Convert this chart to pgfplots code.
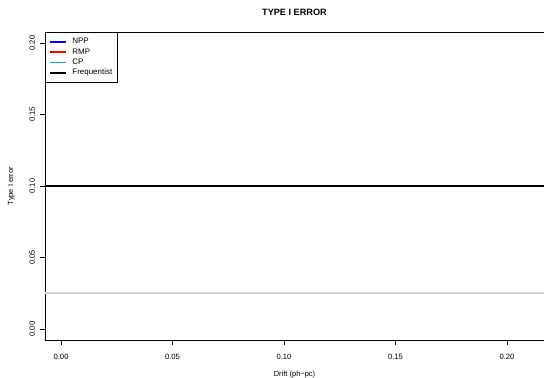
\documentclass[border=0pt]{standalone}
\usepackage{pgfplots}
\pgfplotsset{compat=1.18}
\usepackage{fontspec}
\setmainfont{Liberation Sans}
\definecolor{lgrey}{RGB}{211,211,211}
\begin{document}
\begin{tikzpicture}
\begin{axis}[
  at={(45bp,38bp)}, anchor=south west,
  scale only axis, width=499bp, height=308bp,
  xmin=-0.0072, xmax=0.2166, ymin=-0.0077, ymax=0.2077,
  axis x line*=bottom, axis y line*=left,
  axis line style={line width=0.8bp, -},
  xtick={0,0.05,0.1,0.15,0.2}, ytick={0,0.05,0.1,0.15,0.2},
  xticklabels={0.00,0.05,0.10,0.15,0.20},
  yticklabels={0.00,0.05,0.10,0.15,0.20},
  tick align=outside, major tick length=5bp,
  tick style={black, line width=0.8bp},
  every tick label/.append style={font=\fontsize{7.7}{9}\selectfont},
  xticklabel style={anchor=base, yshift=-14bp},
  yticklabel style={rotate=90, anchor=base},
  yticklabel shift=5bp,
  title={\textbf{TYPE I ERROR}},
  title style={at={(0.5,1.0357)}, anchor=base, font=\fontsize{9.2}{11}\selectfont},
  xlabel={Drift (ph\textminus pc)},
  xlabel style={at={(0.5,-0.1169)}, anchor=base, font=\fontsize{7.5}{9}\selectfont},
  ylabel={Type I error},
  ylabel style={at={(-0.0641,0.5)}, anchor=base, font=\fontsize{7.5}{9}\selectfont},
  legend style={at={(0,1)}, anchor=north west, draw=black, line width=0.6bp,
    font=\fontsize{8}{9}\selectfont, inner xsep=4bp, inner ysep=4.5bp, row sep=0bp,
    column sep=4bp,
    nodes={inner sep=1.5bp, text height=5.7bp, text depth=1.6bp}},
  legend cell align=left,
  legend image code/.code={\draw[#1, line width=1.6bp] (0bp,0bp) -- (16bp,0bp);},
]
\addlegendimage{blue}
\addlegendentry{NPP}
\addlegendimage{red}
\addlegendentry{RMP}
\addlegendimage{cyan}
\addlegendentry{CP}
\addplot[black, line width=1.8bp, forget plot] coordinates {(-0.0072,0.10) (0.2166,0.10)};
\addplot[lgrey, line width=1.8bp, forget plot] coordinates {(-0.0072,0.025) (0.2166,0.025)};
\addlegendimage{black}
\addlegendentry{Frequentist}
\draw[line width=0.8bp] (rel axis cs:0,1) -- (rel axis cs:1,1);
\end{axis}
\pgfresetboundingbox
\useasboundingbox (0,0) rectangle (544bp,378bp);
\end{tikzpicture}
\end{document}
